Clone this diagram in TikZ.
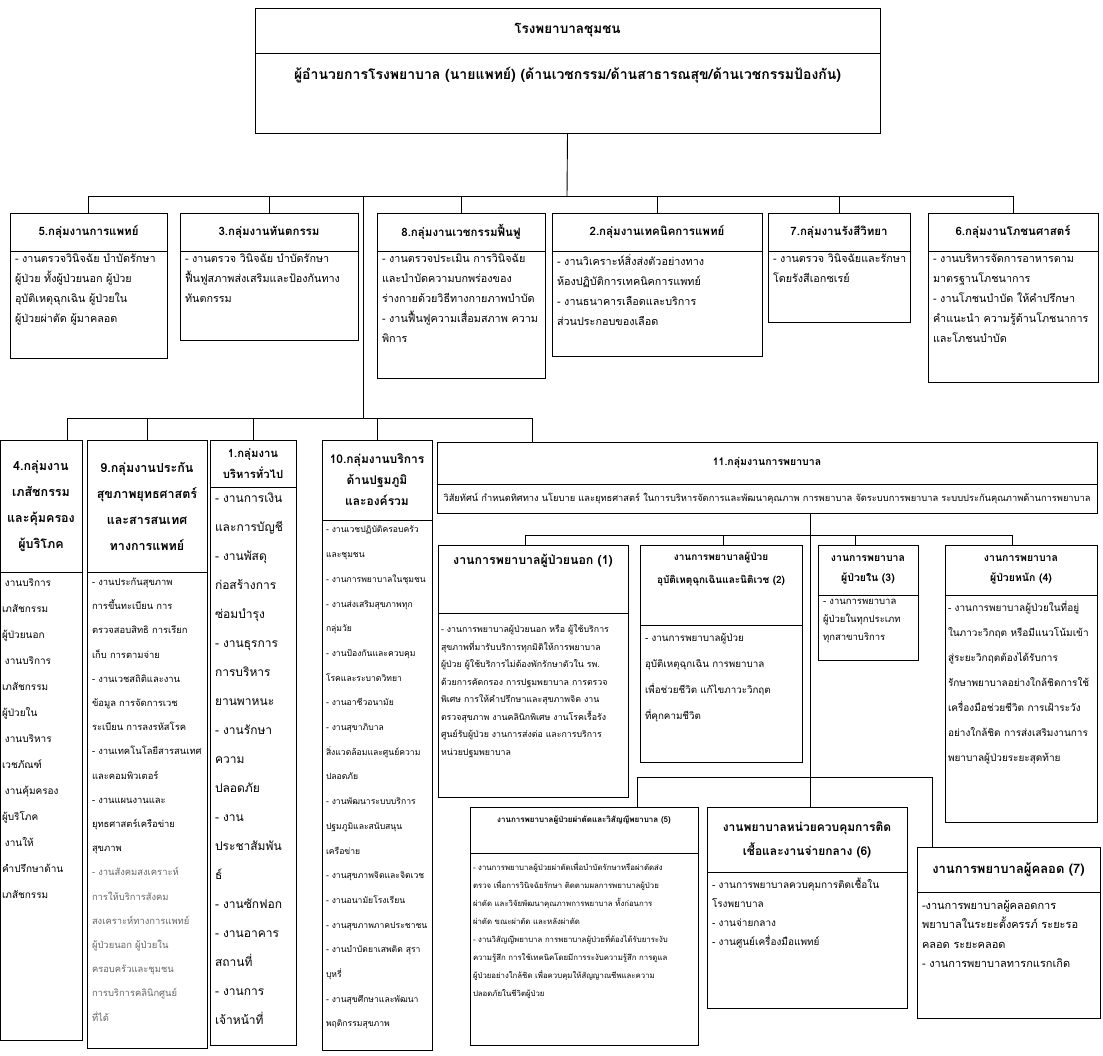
\documentclass[tikz,border=0pt]{standalone}
\usepackage{fontspec}
\setmainfont[Script=Thai]{Loma}
\newcommand\boxcell[8]{%
  \node[cell] (#1) at (#2,#4) {\parbox[c][\dimexpr(#5pt)-(#4pt)\relax][#6]{\dimexpr(#3pt)-(#2pt)\relax}{#7#8\par}};}
\newcommand\bodyfmt[3]{\vspace*{#3}\raggedright\leftskip=5pt\parindent=0pt\fontsize{#1}{#2}\selectfont}
\newcommand\hdfmt[2]{\centering\bfseries\fontsize{#1}{#2}\selectfont}
\newcommand\tophd[3]{\vspace*{#3}\centering\bfseries\fontsize{#1}{#2}\selectfont}
\begin{document}
\begin{tikzpicture}[x=1pt,y=-1pt,
  cell/.style={draw, line width=0.9pt, inner sep=0pt, outer sep=0pt, anchor=north west},
  link/.style={draw, line width=0.9pt}]
\fill[white] (0,0) rectangle (1103,1055);
\useasboundingbox (0,0) rectangle (1103,1055);

% top
\boxcell{top}{255}{880}{8}{53}{c}{\hdfmt{13.5}{16}}{โรงพยาบาลชุมชน}
\boxcell{dir}{255}{880}{53}{133}{t}{\tophd{14}{17}{14pt}}{ผู้อำนวยการโรงพยาบาล (นายแพทย์) (ด้านเวชกรรม/ด้านสาธารณสุข/ด้านเวชกรรมป้องกัน)}

% row 1
\boxcell{g5h}{10}{167}{213}{251}{c}{\hdfmt{11.5}{13}}{5.กลุ่มงานการแพทย์}
\boxcell{g5b}{10}{167}{251}{358}{t}{\bodyfmt{10.8}{20}{3pt}}{-~งานตรวจวินิจฉัย บำบัดรักษา\\ผู้ป่วย ทั้งผู้ป่วยนอก ผู้ป่วย\\อุบัติเหตุฉุกเฉิน ผู้ป่วยใน\\ผู้ป่วยผ่าตัด ผู้มาคลอด}
\boxcell{g3h}{180}{358}{213}{251}{c}{\hdfmt{11.5}{13}}{3.กลุ่มงานทันตกรรม}
\boxcell{g3b}{180}{358}{251}{340}{t}{\bodyfmt{10.8}{20}{3pt}}{-~งานตรวจ วินิจฉัย บำบัดรักษา\\ฟื้นฟูสภาพส่งเสริมและป้องกันทาง\\ทันตกรรม}
\boxcell{g8h}{377}{545}{213}{251}{c}{\hdfmt{11.5}{13}}{8.กลุ่มงานเวชกรรมฟื้นฟู}
\boxcell{g8b}{377}{545}{251}{378}{t}{\bodyfmt{10.8}{20}{3pt}}{-~งานตรวจประเมิน การวินิจฉัย\\และบำบัดความบกพร่องของ\\ร่างกายด้วยวิธีทางกายภาพบำบัด\\-~งานฟื้นฟูความเสื่อมสภาพ ความ\\พิการ}
\boxcell{g2h}{552}{762}{213}{251}{c}{\hdfmt{11.5}{13}}{2.กลุ่มงานเทคนิคการแพทย์}
\boxcell{g2b}{552}{762}{251}{356}{t}{\bodyfmt{10.8}{20}{3pt}}{-~งานวิเคราะห์สิ่งส่งตัวอย่างทาง\\ห้องปฏิบัติการเทคนิคการแพทย์\\-~งานธนาคารเลือดและบริการ\\ส่วนประกอบของเลือด}
\boxcell{g7h}{768}{910}{213}{251}{c}{\hdfmt{11.5}{13}}{7.กลุ่มงานรังสีวิทยา}
\boxcell{g7b}{768}{910}{251}{322}{t}{\bodyfmt{10.8}{20}{3pt}}{-~งานตรวจ วินิจฉัยและรักษา\\โดยรังสีเอกซเรย์}
\boxcell{g6h}{928}{1098}{213}{251}{c}{\hdfmt{11.5}{13}}{6.กลุ่มงานโภชนศาสตร์}
\boxcell{g6b}{928}{1098}{251}{382}{t}{\bodyfmt{10.8}{20}{3pt}}{-~งานบริหารจัดการอาหารตาม\\มาตรฐานโภชนาการ\\-~งานโภชนบำบัด ให้คำปรึกษา\\คำแนะนำ ความรู้ด้านโภชนาการ\\และโภชนบำบัด}

% row 2
\boxcell{g4h}{0}{82}{440}{572}{c}{\hdfmt{12.5}{26}}{4.กลุ่มงาน\\เภสัชกรรม\\และคุ้มครอง\\ผู้บริโภค}
\boxcell{g4b}{0}{82}{572}{1040}{t}{\bodyfmt{10}{26}{6pt}\leftskip=2pt}{\hspace*{3pt}งานบริการ\\เภสัชกรรม\\ผู้ป่วยนอก\\\hspace*{3pt}งานบริการ\\เภสัชกรรม\\ผู้ป่วยใน\\\hspace*{3pt}งานบริหาร\\เวชภัณฑ์\\\hspace*{3pt}งานคุ้มครอง\\ผู้บริโภค\\\hspace*{3pt}งานให้\\คำปรึกษาด้าน\\เภสัชกรรม}
\boxcell{g9h}{87}{207}{440}{572}{c}{\hdfmt{12.5}{26}}{9.กลุ่มงานประกัน\\สุขภาพยุทธศาสตร์\\และสารสนเทศ\\ทางการแพทย์}
\boxcell{g9b}{87}{207}{572}{1048}{t}{\bodyfmt{9.4}{24.2}{6pt}}{-~งานประกันสุขภาพ\\การขึ้นทะเบียน การ\\ตรวจสอบสิทธิ การเรียก\\เก็บ การตามจ่าย\\-~งานเวชสถิติและงาน\\ข้อมูล การจัดการเวช\\ระเบียน การลงรหัสโรค\\-~งานเทคโนโลยีสารสนเทศ\\และคอมพิวเตอร์\\-~งานแผนงานและ\\ยุทธศาสตร์เครือข่าย\\สุขภาพ\\\color{black!60}-~งานสังคมสงเคราะห์\\การให้บริการสังคม\\สงเคราะห์ทางการแพทย์\\ผู้ป่วยนอก ผู้ป่วยใน\\ครอบครัวและชุมชน\\การบริการคลินิกศูนย์\\ที่ได้}
\boxcell{g1h}{210}{296}{440}{487}{c}{\hdfmt{11.3}{21}}{1.กลุ่มงาน\\บริหารทั่วไป}
\boxcell{g1b}{210}{296}{487}{1045}{t}{\bodyfmt{12}{29}{6pt}}{-~งานการเงิน\\และการบัญชี\\-~งานพัสดุ\\ก่อสร้างการ\\ซ่อมบำรุง\\-~งานธุรการ\\การบริหาร\\ยานพาหนะ\\-~งานรักษา\\ความ\\ปลอดภัย\\-~งาน\\ประชาสัมพัน\\ธ์\\-~งานซักฟอก\\-~งานอาคาร\\สถานที่\\-~งานการ\\เจ้าหน้าที่}
\boxcell{g10h}{322}{432}{440}{520}{c}{\hdfmt{12}{21}}{10.กลุ่มงานบริการ\\ด้านปฐมภูมิ\\และองค์รวม}
\boxcell{g10b}{322}{432}{520}{1050}{t}{\bodyfmt{8.6}{24.7}{6pt}\leftskip=4pt}{-~งานเวชปฏิบัติครอบครัว\\และชุมชน\\-~งานการพยาบาลในชุมชน\\-~งานส่งเสริมสุขภาพทุก\\กลุ่มวัย\\-~งานป้องกันและควบคุม\\โรคและระบาดวิทยา\\-~งานอาชีวอนามัย\\-~งานสุขาภิบาล\\สิ่งแวดล้อมและศูนย์ความ\\ปลอดภัย\\-~งานพัฒนาระบบบริการ\\ปฐมภูมิและสนับสนุน\\เครือข่าย\\-~งานสุขภาพจิตและจิตเวช\\-~งานอนามัยโรงเรียน\\-~งานสุขภาพภาคประชาชน\\-~งานบำบัดยาเสพติด สุรา\\บุหรี่\\-~งานสุขศึกษาและพัฒนา\\พฤติกรรมสุขภาพ}

% group 11
\boxcell{g11h}{437}{1097}{442}{484}{c}{\hdfmt{10.5}{13}}{11.กลุ่มงานการพยาบาล}
\boxcell{g11b}{437}{1097}{484}{513}{c}{\centering\fontsize{9.3}{11}\selectfont}{วิสัยทัศน์ กำหนดทิศทาง นโยบาย และยุทธศาสตร์ ในการบริหารจัดการและพัฒนาคุณภาพ การพยาบาล จัดระบบการพยาบาล ระบบประกันคุณภาพด้านการพยาบาล}

\boxcell{n1h}{438}{628}{545}{613}{t}{\tophd{12.4}{15}{9pt}}{งานการพยาบาลผู้ป่วยนอก (1)}
\boxcell{n1b}{438}{628}{613}{797}{t}{\bodyfmt{8.8}{17.5}{12pt}\leftskip=3pt}{-~งานการพยาบาลผู้ป่วยนอก หรือ ผู้ใช้บริการ\\สุขภาพที่มารับบริการทุกมิติให้การพยาบาล\\ผู้ป่วย ผู้ใช้บริการไม่ต้องพักรักษาตัวใน รพ.\\ด้วยการคัดกรอง การปฐมพยาบาล การตรวจ\\พิเศษ การให้คำปรึกษาและสุขภาพจิต งาน\\ตรวจสุขภาพ งานคลินิกพิเศษ งานโรคเรื้อรัง\\ศูนย์รับผู้ป่วย งานการส่งต่อ และการบริการ\\หน่วยปฐมพยาบาล}
\boxcell{n2h}{640}{802}{545}{625}{t}{\tophd{10}{23}{7pt}}{งานการพยาบาลผู้ป่วย\\อุบัติเหตุฉุกเฉินและนิติเวช (2)}
\boxcell{n2b}{640}{802}{625}{762}{t}{\bodyfmt{9.8}{26}{8pt}}{-~งานการพยาบาลผู้ป่วย\\อุบัติเหตุฉุกเฉิน การพยาบาล\\เพื่อช่วยชีวิต แก้ไขภาวะวิกฤต\\ที่คุกคามชีวิต}
\boxcell{n3h}{818}{918}{545}{595}{c}{\hdfmt{10.5}{20}}{งานการพยาบาล\\ผู้ป่วยใน (3)}
\boxcell{n3b}{818}{918}{595}{660}{t}{\bodyfmt{9.5}{18}{4pt}}{-~งานการพยาบาล\\ผู้ป่วยในทุกประเภท\\ทุกสาขาบริการ}
\boxcell{n4h}{945}{1097}{545}{595}{c}{\hdfmt{10.5}{20}}{งานการพยาบาล\\ผู้ป่วยหนัก (4)}
\boxcell{n4b}{945}{1097}{595}{822}{t}{\bodyfmt{10}{25}{6pt}\leftskip=3pt}{-~งานการพยาบาลผู้ป่วยในที่อยู่\\ในภาวะวิกฤต หรือมีแนวโน้มเข้า\\สู่ระยะวิกฤตต้องได้รับการ\\รักษาพยาบาลอย่างใกล้ชิดการใช้\\เครื่องมือช่วยชีวิต การเฝ้าระวัง\\อย่างใกล้ชิด การส่งเสริมงานการ\\พยาบาลผู้ป่วยระยะสุดท้าย}

\boxcell{n5h}{470}{698}{807}{853}{t}{\tophd{8}{10}{9pt}}{งานการพยาบาลผู้ป่วยผ่าตัดและวิสัญญีพยาบาล (5)}
\boxcell{n5b}{470}{698}{853}{1045}{t}{\bodyfmt{7.8}{18}{9pt}\leftskip=3pt}{-~งานการพยาบาลผู้ป่วยผ่าตัดเพื่อบำบัดรักษาหรือผ่าตัดส่ง\\ตรวจ เพื่อการวินิจฉัยรักษา ติดตามผลการพยาบาลผู้ป่วย\\ผ่าตัด และวิจัยพัฒนาคุณภาพการพยาบาล ทั้งก่อนการ\\ผ่าตัด ขณะผ่าตัด และหลังผ่าตัด\\-~งานวิสัญญีพยาบาล การพยาบาลผู้ป่วยที่ต้องได้รับยาระงับ\\ความรู้สึก การใช้เทคนิคโดยมีการระงับความรู้สึก การดูแล\\ผู้ป่วยอย่างใกล้ชิด เพื่อควบคุมให้สัญญาณชีพและความ\\ปลอดภัยในชีวิตผู้ป่วย}
\boxcell{n6h}{707}{907}{807}{872}{c}{\hdfmt{12}{24}}{งานพยาบาลหน่วยควบคุมการติด\\เชื้อและงานจ่ายกลาง (6)}
\boxcell{n6b}{707}{907}{872}{1008}{t}{\bodyfmt{10}{19}{6pt}}{-~งานการพยาบาลควบคุมการติดเชื้อใน\\โรงพยาบาล\\-~งานจ่ายกลาง\\-~งานศูนย์เครื่องมือแพทย์}
\boxcell{n7h}{917}{1100}{847}{892}{c}{\hdfmt{13}{15}}{งานการพยาบาลผู้คลอด (7)}
\boxcell{n7b}{917}{1100}{892}{1018}{t}{\bodyfmt{11}{19.5}{8pt}}{-งานการพยาบาลผู้คลอดการ\\พยาบาลในระยะตั้งครรภ์ ระยะรอ\\คลอด ระยะคลอด\\-~งานการพยาบาลทารกแรกเกิด}

% connectors
\coordinate (bus1) at (567,196);
\draw[link] (dir.south) -- (bus1);
\draw[link] (g5h.north |- bus1) -- (g6h.north |- bus1);
\foreach \n in {g5h,g3h,g8h,g2h,g7h,g6h} \draw[link] (\n.north) -- (\n.north |- bus1);
\coordinate (tr2) at (363,196);
\coordinate (bus2) at (363,418);
\draw[link] (tr2) -- (bus2);
\coordinate (d4) at (67,418);
\coordinate (d11) at (532,418);
\draw[link] (d4) -- (d11);
\draw[link] (d4) -- (d4 |- g4h.north);
\foreach \n in {g9h,g1h,g10h} \draw[link] (\n.north) -- (\n.north |- bus2);
\draw[link] (d11) -- (d11 |- g11h.north);
% nursing sub-units
\coordinate (t3) at (810,777);
\draw[link] (t3 |- g11b.south) -- (t3);
\coordinate (s1) at (525,535);
\coordinate (s2) at (723,535);
\coordinate (s3) at (855,535);
\coordinate (s4) at (1012,535);
\draw[link] (s1) -- (s4);
\draw[link] (s1) -- (s1 |- n1h.north);
\draw[link] (s2) -- (s2 |- n2h.north);
\draw[link] (s3) -- (s3 |- n3h.north);
\draw[link] (s4) -- (s4 |- n4h.north);
\coordinate (d5) at (637,777);
\coordinate (d7) at (932,777);
\draw[link] (d5) -- (d7);
\draw[link] (d5) -- (d5 |- n5h.north);
\draw[link] (t3) -- (t3 |- n6h.north);
\draw[link] (d7) -- (d7 |- n7h.north);
\end{tikzpicture}
\end{document}
